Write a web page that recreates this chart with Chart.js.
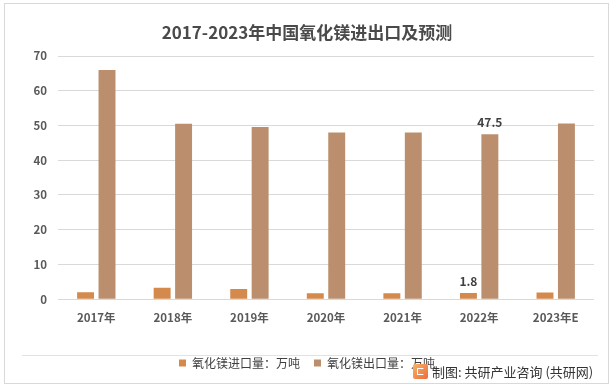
<!DOCTYPE html>
<html>
<head>
<meta charset="utf-8">
<script src="https://cdn.jsdelivr.net/npm/chart.js@4"></script>
<style>
  html,body{margin:0;padding:0;background:#fff;}
  #wrap{position:relative;width:614px;height:388px;overflow:hidden;background:#fff;}
  #c{position:absolute;left:0;top:0;}
  #frame{position:absolute;left:4px;top:3px;width:603px;height:379px;border:1px solid #d9d9d9;pointer-events:none;}
  #sep{position:absolute;left:22px;top:355px;width:576px;height:0;border-top:1px solid #e2e2e2;}
  #footer{position:absolute;left:413px;top:363px;height:16px;display:flex;align-items:center;font-family:"Noto Sans CJK SC",sans-serif;font-size:13px;color:#333;white-space:nowrap;}
  #icon{width:15px;height:15px;border-radius:2px;background:linear-gradient(135deg,#f6b36a,#ee6a3a);margin-right:4px;position:relative;}
  #icon:after{content:"";position:absolute;left:4px;top:4px;width:5px;height:5px;border:1.5px solid #fff;border-right-color:transparent;border-radius:1px;}
</style>
</head>
<body>
<div id="wrap">
  <canvas id="c" width="614" height="388"></canvas>
  <div id="sep"></div>
  <div id="footer"><div id="icon"></div><span>制图: 共研产业咨询 (共研网)</span></div>
  <div id="frame"></div>
</div>
<script>
const titleText = "2017-2023年中国氧化镁进出口及预测";
const categories = ["2017年","2018年","2019年","2020年","2021年","2022年","2023年E"];
const importLabel = "氧化镁进口量：万吨";
const exportLabel = "氧化镁出口量：万吨";
const importValues = [2.0, 3.3, 2.9, 1.7, 1.7, 1.8, 1.9];
const exportValues = [66.0, 50.5, 49.6, 48.0, 48.0, 47.5, 50.6];
const labeledPoints = [false, false, false, false, false, true, false];
const yTicks = [0, 10, 20, 30, 40, 50, 60, 70];

const importColor = "#d48a4c";
const exportColor = "#bb8f6d";
const tickColor = "#595959";
const fontFam = "'Noto Sans CJK SC', sans-serif";

const valueLabels = {
  id: "valueLabels",
  afterDatasetsDraw(chart) {
    const ctx = chart.ctx;
    ctx.save();
    ctx.font = "bold 12px " + fontFam;
    ctx.fillStyle = "#404040";
    ctx.textAlign = "center";
    ctx.textBaseline = "middle";
    chart.data.datasets.forEach((ds, di) => {
      const meta = chart.getDatasetMeta(di);
      meta.data.forEach((bar, i) => {
        if (!labeledPoints[i]) return;
        ctx.fillText(String(ds.data[i]), bar.x, bar.y - 12);
      });
    });
    ctx.restore();
  }
};

new Chart(document.getElementById("c"), {
  type: "bar",
  data: {
    labels: categories,
    datasets: [
      { label: importLabel, data: importValues, backgroundColor: importColor,
        categoryPercentage: 0.56, barPercentage: 0.79 },
      { label: exportLabel, data: exportValues, backgroundColor: exportColor,
        categoryPercentage: 0.56, barPercentage: 0.79 }
    ]
  },
  options: {
    responsive: false,
    animation: false,
    devicePixelRatio: 1,
    layout: { padding: { left: 20, right: 20, top: 0, bottom: 9 } },
    plugins: {
      title: {
        display: true,
        text: titleText,
        color: "#4a4a4a",
        font: { family: fontFam, size: 17, weight: "bold", lineHeight: 1.2 },
        padding: { top: 22, bottom: 13.6 }
      },
      legend: {
        position: "bottom",
        labels: {
          boxWidth: 7, boxHeight: 7, padding: 14,
          color: "#404040",
          font: { family: fontFam, size: 12 }
        }
      },
      tooltip: { enabled: false }
    },
    scales: {
      x: {
        grid: { display: false, drawTicks: false },
        border: { display: false },
        ticks: { color: tickColor, padding: 12, font: { family: fontFam, size: 11.5, weight: "bold" } },
        afterFit(scale) { scale.height = 43.8; }
      },
      y: {
        min: 0, max: 70,
        afterBuildTicks(scale) { scale.ticks = yTicks.map(v => ({ value: v })); },
        grid: { color: "#d9d9d9", lineWidth: 1, drawTicks: false },
        border: { display: false },
        ticks: { color: tickColor, padding: 11, font: { family: fontFam, size: 11.5, weight: "bold" } },
        afterFit(scale) { scale.width = 38; }
      }
    }
  },
  plugins: [valueLabels]
});
</script>
</body>
</html>
